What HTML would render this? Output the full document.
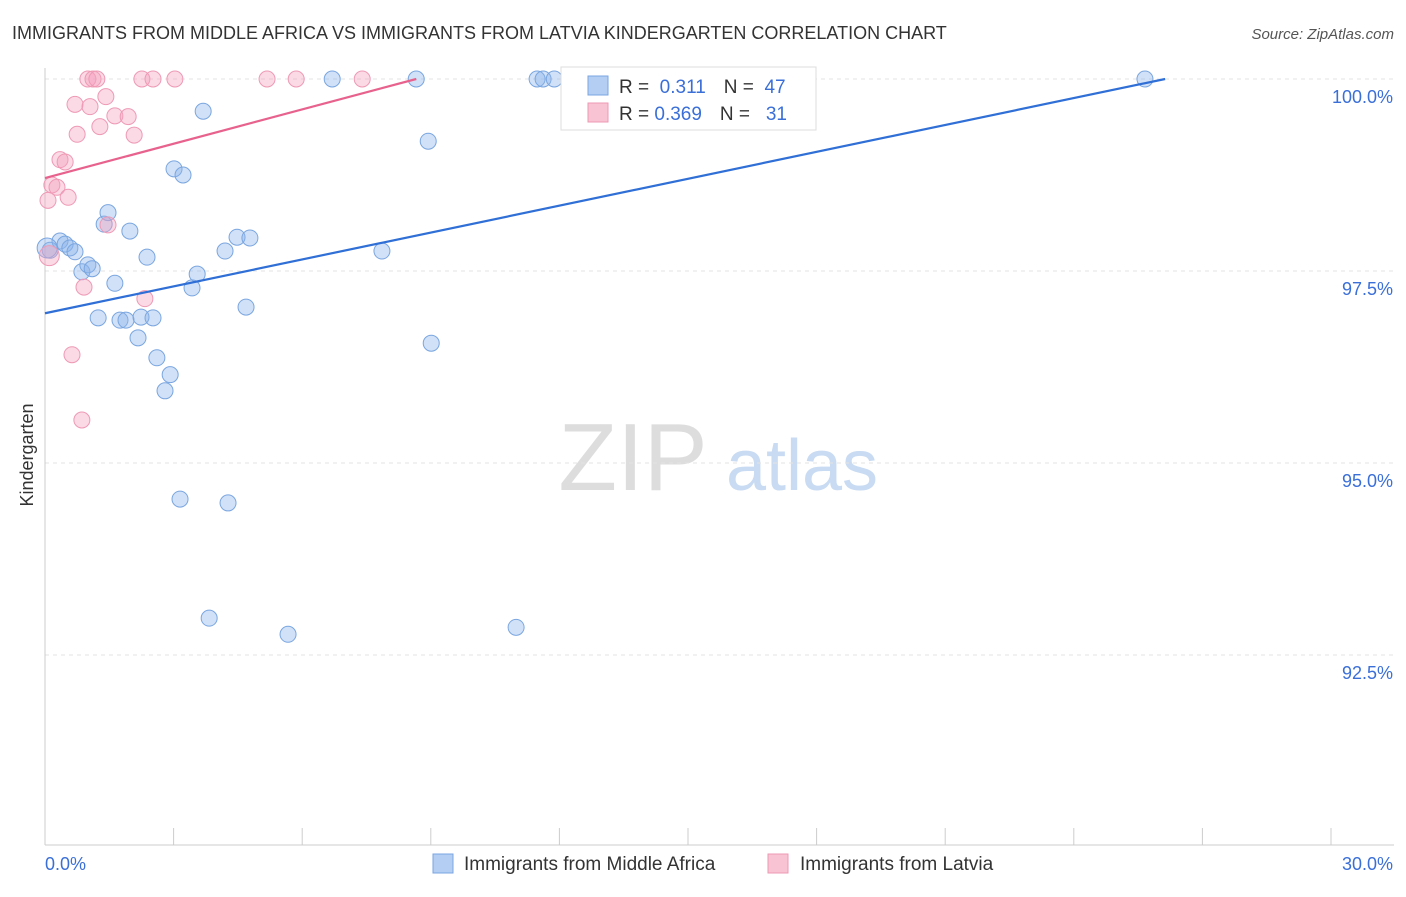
<!DOCTYPE html>
<html><head><meta charset="utf-8"><style>
body{margin:0;background:#fff;font-family:"Liberation Sans",sans-serif}
svg text{font-family:"Liberation Sans",sans-serif}
</style></head><body>
<svg id="c" width="1406" height="892" xmlns="http://www.w3.org/2000/svg">
<text x="12" y="39" font-size="18" fill="#333">IMMIGRANTS FROM MIDDLE AFRICA VS IMMIGRANTS FROM LATVIA KINDERGARTEN CORRELATION CHART</text>
<text x="1394" y="39" font-size="15" fill="#555" text-anchor="end" font-style="italic">Source: ZipAtlas.com</text>
<text x="33" y="455" font-size="18" fill="#333" text-anchor="middle" transform="rotate(-90 33 455)">Kindergarten</text>
<g><text x="633" y="490" font-size="96" fill="#ddd" text-anchor="middle" font-family="Liberation Serif,serif">ZIP</text><text x="802" y="490" font-size="72" fill="#c8dbf2" text-anchor="middle">atlas</text></g>
<g id="grid"></g><g id="axes"></g><g id="pts"></g><g id="lines"></g>
<g>
<rect x="561" y="67" width="255" height="63" fill="#fff" stroke="#ddd"/>
<rect x="588" y="76" width="20" height="19" fill="#b3cdf3" stroke="#7aa6e0"/>
<rect x="588" y="103" width="20" height="19" fill="#f8c3d3" stroke="#ee9ab5"/>
<text x="619" y="93" font-size="19" fill="#333">R = <tspan fill="#3a6fd8">&#160;0.311</tspan><tspan dx="18">N = </tspan><tspan fill="#3a6fd8">&#160;47</tspan></text>
<text x="619" y="120" font-size="19" fill="#333">R = <tspan fill="#3a6fd8">0.369</tspan><tspan dx="18">N = </tspan><tspan fill="#3a6fd8">&#160;&#160;31</tspan></text>
</g>
<g>
<rect x="433" y="854" width="20" height="19" fill="#b3cdf3" stroke="#7aa6e0"/>
<text x="464" y="870" font-size="19" fill="#333">Immigrants from Middle Africa</text>
<rect x="768" y="854" width="20" height="19" fill="#f8c3d3" stroke="#ee9ab5"/>
<text x="800" y="870" font-size="19" fill="#333">Immigrants from Latvia</text>
</g>
</svg>
<script>
const yTicks=[100,97.5,95,92.5];
const yTickLabels=["100.0%","97.5%","95.0%","92.5%"];
const xTicks=[0,3,6,9,12,15,18,21,24,27,30];
const blueX=[0.12,0.35,0.47,0.58,0.70,0.86,1.00,1.10,1.24,1.38,1.47,1.63,1.75,1.89,1.98,2.17,2.24,2.38,2.52,2.61,2.80,2.92,3.01,3.15,3.22,3.43,3.55,3.69,3.83,4.20,4.27,4.48,4.69,4.78,5.67,6.70,7.86,8.66,8.94,9.01,10.99,11.48,11.62,11.88,14.40,25.66,0.05];
const blueY=[97.77,97.89,97.85,97.80,97.75,97.49,97.58,97.53,96.89,98.11,98.26,97.34,96.86,96.86,98.02,96.63,96.90,97.68,96.89,96.37,95.94,96.15,98.83,94.53,98.75,97.28,97.46,99.58,92.98,97.76,94.48,97.94,97.03,97.93,92.77,100,97.76,100,99.19,96.56,92.86,100,100,100,100,100,97.8];
const pinkX=[0.07,0.16,0.28,0.35,0.47,0.54,0.63,0.70,0.75,0.86,0.91,1.00,1.05,1.12,1.21,1.28,1.42,1.47,1.63,1.94,2.08,2.26,2.33,2.52,3.03,5.18,5.86,7.40,14.35,0.1];
const pinkY=[98.42,98.62,98.59,98.95,98.92,98.46,96.41,99.67,99.28,95.56,97.29,100,99.64,100,100,99.38,99.77,98.10,99.52,99.51,99.27,100,97.14,100,100,100,100,100,100,97.7];
const blueTrend=[[0,96.95],[26.13,100]];
const pinkTrend=[[0,98.71],[8.66,100]];
const X=v=>45+v/30*1286, Y=v=>79+(100-v)*76.8;
const NS="http://www.w3.org/2000/svg";
function mk(p,t,a){const e=document.createElementNS(NS,t);for(const k in a)e.setAttribute(k,a[k]);document.getElementById(p).appendChild(e);return e;}
yTicks.forEach((t,i)=>{
 const l=mk('grid','line',{x1:45,x2:1394,y1:Y(t),y2:Y(t),stroke:'#e3e3e3','stroke-dasharray':'4 4'});
 
 
 const tx=mk('axes','text',{x:1393,y:Y(t)+24,'font-size':18,fill:'#3a6fd8','text-anchor':'end'});
 tx.textContent=yTickLabels[i];
 
 
});
const ax=mk('axes','line',{x1:45,x2:1394,y1:845,y2:845,stroke:'#ccc'});


const ay=mk('axes','line',{x1:45,x2:45,y1:68,y2:845,stroke:'#ccc'});


xTicks.forEach(t=>{
 const l=mk('axes','line',{x1:X(t),x2:X(t),y1:828,y2:845,stroke:'#ccc'});
 
 
});
const xl0=mk('axes','text',{x:45,y:870,'font-size':18,fill:'#3a6fd8'});xl0.textContent=xTicks[0].toFixed(1)+'%';


const xl1=mk('axes','text',{x:1393,y:870,'font-size':18,fill:'#3a6fd8','text-anchor':'end'});xl1.textContent=xTicks[xTicks.length-1].toFixed(1)+'%';


blueX.forEach((x,i)=>{
 const c=mk('pts','circle',{cx:X(x),cy:Y(blueY[i]),r:i==blueX.length-1?10:8,fill:'rgba(140,180,236,0.4)',stroke:'#7aa6e0','stroke-width':1});
 
 
});
pinkX.forEach((x,i)=>{
 const c=mk('pts','circle',{cx:X(x),cy:Y(pinkY[i]),r:i==pinkX.length-1?10:8,fill:'rgba(244,160,190,0.4)',stroke:'#ee9ab5','stroke-width':1});
 
 
});
const bl=mk('lines','line',{x1:X(blueTrend[0][0]),y1:Y(blueTrend[0][1]),x2:X(blueTrend[1][0]),y2:Y(blueTrend[1][1]),stroke:'#2f6fd6','stroke-width':2.2});


const pl=mk('lines','line',{x1:X(pinkTrend[0][0]),y1:Y(pinkTrend[0][1]),x2:X(pinkTrend[1][0]),y2:Y(pinkTrend[1][1]),stroke:'#e8628e','stroke-width':2.2});


</script>
</body></html>
